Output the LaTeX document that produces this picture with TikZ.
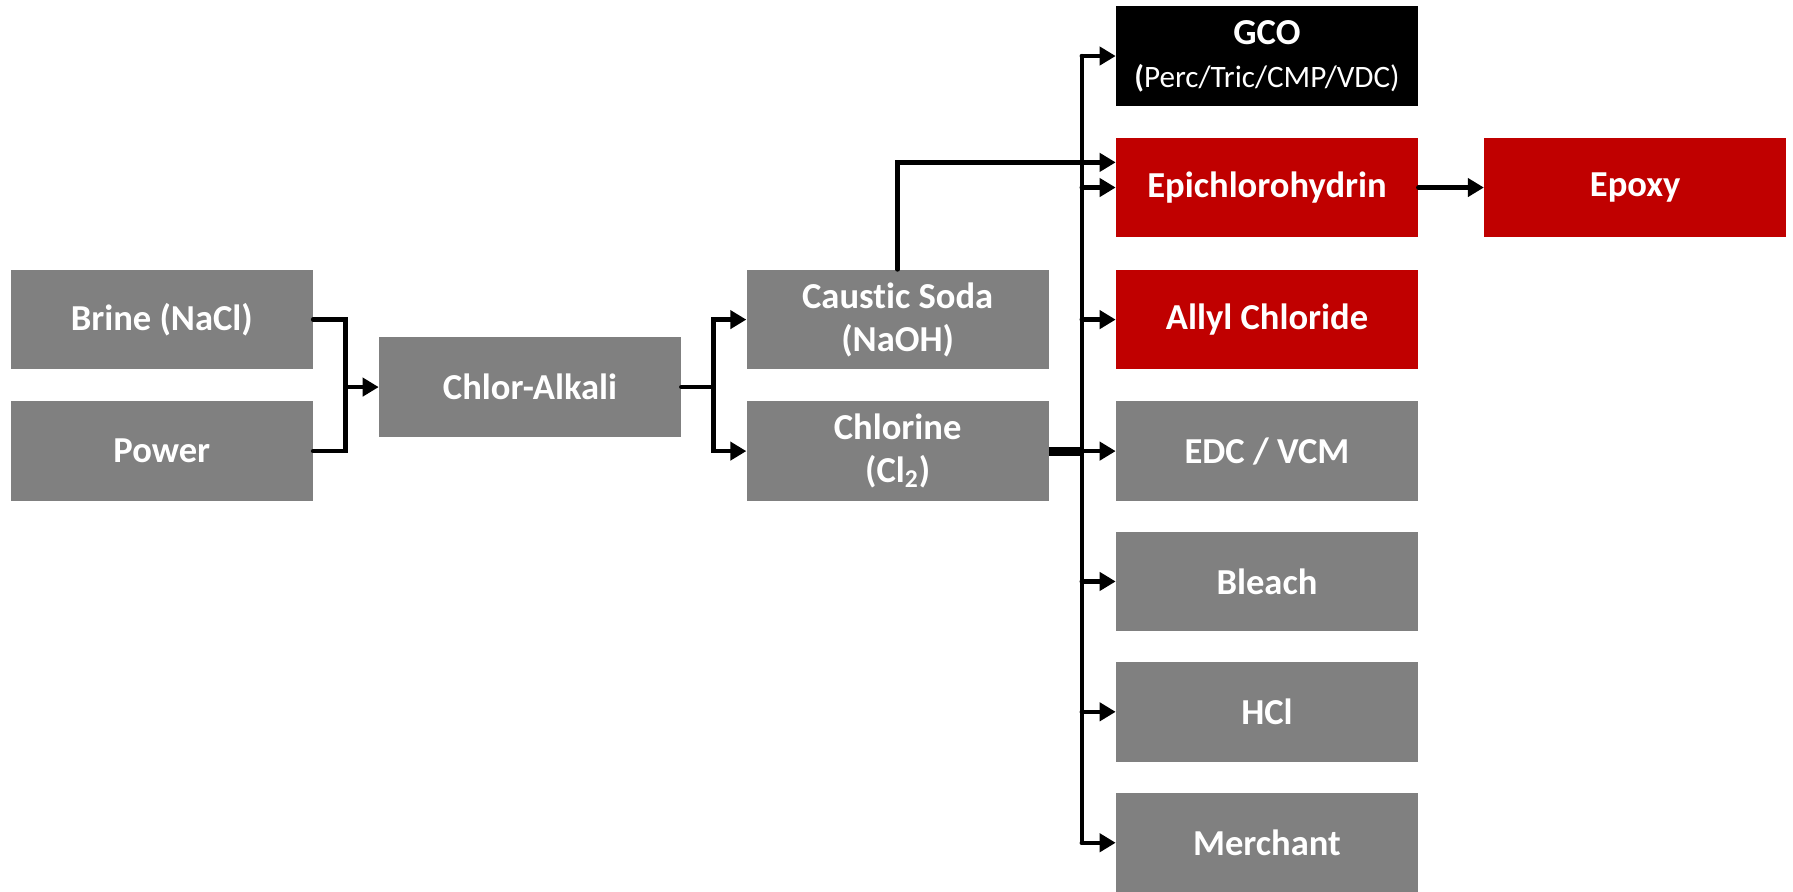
\documentclass[tikz,border=0pt]{standalone}
\usepackage{fontspec}
\setmainfont{Carlito}[Ligatures={NoCommon,NoContextual}]
\usetikzlibrary{arrows.meta,positioning}
\definecolor{boxgray}{RGB}{128,128,128}
\definecolor{boxred}{RGB}{192,0,0}

\begin{document}
\begin{tikzpicture}[x=0.02cm, y=-0.02cm,
    unit/.style={rectangle, fill=boxgray, text=white, minimum width=5.28cm, minimum height=1.74cm,
      inner sep=0pt, align=center, font=\fontsize{18.2}{21.5}\selectfont\bfseries},
    link/.style={line width=2.2pt, line cap=round},
    flow/.style={link, -{Triangle[length=8pt,width=9pt]}}]
    \useasboundingbox (0,0) rectangle (1568,780);
    % feed and cell
    \node[unit] (brine) at (141.5,279.5) {Brine (NaCl)};
    \node[unit] (power) at (141.5,394.5) {Power};
    \node[unit] (chlor) at (463.5,338.5) {Chlor-Alkali};
    \node[unit] (caustic) at (785,279.5) {Caust\kern0pt ic Soda\\(NaOH)};
    \node[unit] (chlorine) at (785,394.5) {Chlorine\\(Cl\textsubscript{2})};
    % products
    \node[unit, fill=black] (gco) at (1108,49) {GCO\\{\fontsize{15.5}{21.5}\selectfont\mdseries\textbf{(}Perc/Tric/CMP/VDC)}};
    \foreach \n/\y/\c/\t in {epi/164/boxred/Epichlorohydrin, allyl/279.5/boxred/Allyl Chloride,
      edc/394.5/boxgray/{EDC / VCM}, bleach/508.5/boxgray/Bleach, hcl/622.5/boxgray/HCl,
      merchant/737/boxgray/Merchant} {
      \node[unit, fill=\c] (\n) at (1108,\y) {\t};
    }
    \node[unit, fill=boxred] (epoxy) at (1430,164) {Epoxy};

    \coordinate (inJoin) at (302,338.5);
    \coordinate (outJoin) at (624,338.5);
    \coordinate (busTop) at (946,49);
    \coordinate (busBot) at (946,737);

    \draw[link] (brine.east) -| (inJoin) |- (power.east);
    \draw[flow] (inJoin) -- (chlor.west);
    \draw[link] (chlor.east) -- (outJoin);
    \draw[flow] (outJoin) |- (caustic.west);
    \draw[flow] (outJoin) |- (chlorine.west);
    \draw[flow] (caustic.north) |- ([yshift=0.44cm]epi.west);
    \draw[line width=4.5pt] (chlorine.east) -- (chlorine.east -| busTop);
    \draw[link] (busTop) -- (busBot);
    \foreach \n in {gco,epi,allyl,edc,bleach,hcl,merchant}
      \draw[flow] (\n.west -| busTop) -- (\n.west);
    \draw[flow] (epi.east) -- (epoxy.west);
\end{tikzpicture}
\end{document}
